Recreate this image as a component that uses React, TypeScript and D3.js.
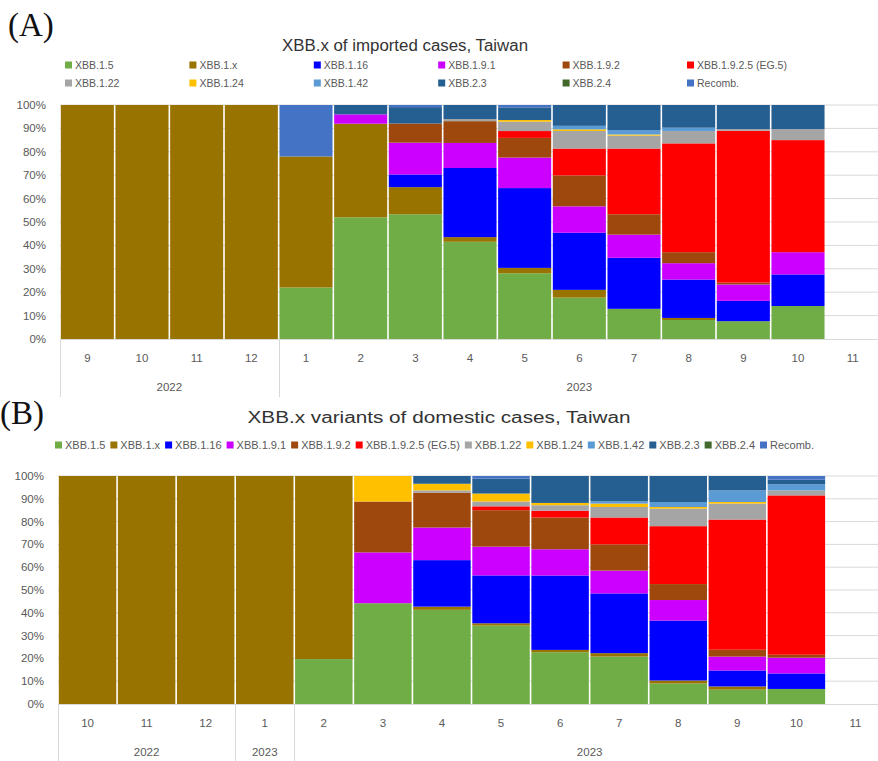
import React, { useEffect, useRef } from 'react';
import * as d3 from 'd3';

// variant names, bottom of the stack first
const variants = ['XBB.1.5', 'XBB.1.x', 'XBB.1.16', 'XBB.1.9.1', 'XBB.1.9.2', 'XBB.1.9.2.5 (EG.5)',
  'XBB.1.22', 'XBB.1.24', 'XBB.1.42', 'XBB.2.3', 'XBB.2.4', 'Recomb.'];
const variantColors = ['#70ad47', '#997300', '#0000ff', '#cc00ff', '#9e480e', '#ff0000',
  '#a5a5a5', '#ffc000', '#5b9bd5', '#255e91', '#43682b', '#4472c4'];

const yTicks = [0, 0.1, 0.2, 0.3, 0.4, 0.5, 0.6, 0.7, 0.8, 0.9, 1];

// (A) imported cases, Sep 2022 .. Nov 2023
const importedMonths = ['9', '10', '11', '12', '1', '2', '3', '4', '5', '6', '7', '8', '9', '10', '11'];
const importedYears = [{ label: '2022', from: 0, to: 4 }, { label: '2023', from: 4, to: 15 }];
const impXBB15 = [0, 0, 0, 0, 22, 52, 53.3, 41.5, 28, 17.7, 12.9, 8.1, 7.6, 14.1, 0];
const impXBB1x = [100, 100, 100, 100, 56, 40, 11.6, 2, 2.3, 3.3, 0, 0.9, 0, 0, 0];
const impXBB116 = [0, 0, 0, 0, 0, 0, 5.4, 29.5, 34, 24.4, 21.8, 16.4, 8.7, 13.5, 0];
const impXBB191 = [0, 0, 0, 0, 0, 4, 13.6, 10.7, 13, 11.3, 9.9, 7, 7, 9.5, 0];
const impXBB192 = [0, 0, 0, 0, 0, 0, 8.2, 9.3, 8.4, 13.2, 8.7, 4.7, 0.8, 0, 0];
const impEG5 = [0, 0, 0, 0, 0, 0, 0, 0, 2.9, 11.5, 28.1, 46.5, 64.9, 47.9, 0];
const impXBB122 = [0, 0, 0, 0, 0, 0, 0, 0.9, 4, 7.5, 5.5, 5.3, 0.7, 4.7, 0];
const impXBB124 = [0, 0, 0, 0, 0, 0, 0, 0, 0.7, 0.7, 0.5, 0, 0, 0, 0];
const impXBB142 = [0, 0, 0, 0, 0, 0, 0, 0, 0, 1.5, 1.9, 1.4, 0, 0, 0];
const impXBB23 = [0, 0, 0, 0, 0, 4, 7, 6, 5.4, 8.9, 10.7, 9.7, 10.3, 10.3, 0];
const impXBB24 = [0, 0, 0, 0, 0, 0, 0, 0, 0, 0, 0, 0, 0, 0, 0];
const impRecomb = [0, 0, 0, 0, 22, 0, 0.9, 0, 1, 0, 0, 0, 0, 0, 0];

// (B) domestic cases, Oct 2022 .. Nov 2023
const domesticMonths = ['10', '11', '12', '1', '2', '3', '4', '5', '6', '7', '8', '9', '10', '11'];
const domesticYears = [{ label: '2022', from: 0, to: 3 }, { label: '2023', from: 3, to: 4 }, { label: '2023', from: 4, to: 14 }];
const domXBB15 = [0, 0, 0, 0, 19.7, 44.2, 41.3, 34.4, 22.7, 20.8, 9, 6.3, 6.6, 0];
const domXBB1x = [100, 100, 100, 100, 80.3, 0, 1.4, 1, 1, 1.5, 1.3, 1.4, 0, 0];
const domXBB116 = [0, 0, 0, 0, 0, 0, 20.4, 21, 32.6, 26.2, 26.3, 7, 6.8, 0];
const domXBB191 = [0, 0, 0, 0, 0, 22.3, 14.3, 12.6, 11.5, 10, 9, 6.1, 6.9, 0];
const domXBB192 = [0, 0, 0, 0, 0, 22.3, 15.3, 16, 13.9, 11.5, 7, 3, 1.3, 0];
const domEG5 = [0, 0, 0, 0, 0, 0, 0, 1.7, 3, 11.8, 25.4, 57.1, 69.9, 0];
const domXBB122 = [0, 0, 0, 0, 0, 0, 1, 2.1, 2.4, 4.6, 7.7, 7, 2.2, 0];
const domXBB124 = [0, 0, 0, 0, 0, 11.2, 2.9, 3.5, 1, 1.5, 0.7, 0.7, 0, 0];
const domXBB142 = [0, 0, 0, 0, 0, 0, 0, 0, 0, 1, 2.2, 5.1, 2.7, 0];
const domXBB23 = [0, 0, 0, 0, 0, 0, 3.4, 6.5, 11.8, 11.1, 11.4, 6.3, 2, 0];
const domXBB24 = [0, 0, 0, 0, 0, 0, 0, 0, 0, 0, 0, 0, 0, 0];
const domRecomb = [0, 0, 0, 0, 0, 0, 0, 1.2, 0, 0, 0, 0, 1.6, 0];

const importedSeries = [impXBB15, impXBB1x, impXBB116, impXBB191, impXBB192, impEG5,
  impXBB122, impXBB124, impXBB142, impXBB23, impXBB24, impRecomb];
const domesticSeries = [domXBB15, domXBB1x, domXBB116, domXBB191, domXBB192, domEG5,
  domXBB122, domXBB124, domXBB142, domXBB23, domXBB24, domRecomb];

const FONT = 'Liberation Sans, Arial, sans-serif';
const GREY = '#595959';

type Panel = {
  tag: string; tagX: number; tagY: number;
  title: string; titleX: number; titleY: number; titleLen: number;
  months: string[]; years: { label: string; from: number; to: number }[];
  series: number[][];
  left: number; right: number; top: number; bottom: number;
};

function drawPanel(svg: any, p: Panel) {
  const g = svg.append('g');
  const n = p.months.length;
  const idx = d3.range(n);
  const x = d3.scaleBand<number>().domain(idx).range([p.left, p.right]).padding(0);
  const y = d3.scaleLinear().domain([0, 1]).range([p.bottom, p.top]);

  g.append('text').attr('x', p.tagX).attr('y', p.tagY)
    .attr('font-family', 'Liberation Serif, Times New Roman, serif').attr('font-size', 33)
    .attr('fill', '#111').text(p.tag);
  g.append('text').attr('x', p.titleX).attr('y', p.titleY).attr('text-anchor', 'middle')
    .attr('font-family', FONT).attr('font-size', 16).attr('fill', '#333')
    .attr('textLength', p.titleLen).attr('lengthAdjust', 'spacingAndGlyphs').text(p.title);

  // gridlines
  g.selectAll('.grid').data(yTicks.slice(1)).enter().append('line')
    .attr('x1', p.left).attr('x2', 878).attr('y1', d => y(d)).attr('y2', d => y(d))
    .attr('stroke', '#d9d9d9').attr('stroke-width', 1);

  // y labels
  g.selectAll('.ylab').data(yTicks).enter().append('text')
    .attr('x', p.left - 14).attr('y', d => y(d)).attr('dy', '0.35em').attr('text-anchor', 'end')
    .attr('font-family', FONT).attr('font-size', 11.5).attr('fill', GREY)
    .text(d => d3.format('.0%')(d));

  // 100% stacked bars
  const rows = idx.map(i => {
    const r: any = { i };
    const total = d3.sum(p.series, s => s[i]);
    variants.forEach((v, k) => { r[v] = total > 0 ? p.series[k][i] / total : 0; });
    return r;
  });
  const stacked = d3.stack().keys(variants)(rows);
  const layers = g.selectAll('.layer').data(stacked).enter().append('g')
    .attr('fill', (_d: any, k: number) => variantColors[k]);
  layers.selectAll('rect').data((d: any) => d).enter().append('rect')
    .attr('x', (d: any) => (x(d.data.i) as number) + 0.8)
    .attr('width', x.bandwidth() - 1.6)
    .attr('y', (d: any) => y(d[1]))
    .attr('height', (d: any) => y(d[0]) - y(d[1]));

  // category axis
  g.append('line').attr('x1', p.left).attr('x2', 878).attr('y1', p.bottom + 0.5).attr('y2', p.bottom + 0.5)
    .attr('stroke', '#d9d9d9');
  g.selectAll('.xlab').data(idx).enter().append('text')
    .attr('x', i => (x(i) as number) + x.bandwidth() / 2).attr('y', p.bottom + 19).attr('dy', '0.35em')
    .attr('text-anchor', 'middle').attr('font-family', FONT).attr('font-size', 11.5).attr('fill', GREY)
    .text(i => p.months[i]);
  const bounds = Array.from(new Set(p.years.flatMap(yr => [yr.from, yr.to]))).filter(b => b < n);
  g.selectAll('.ydiv').data(bounds).enter().append('line')
    .attr('x1', b => Math.round(x(b) as number) + 0.5).attr('x2', b => Math.round(x(b) as number) + 0.5)
    .attr('y1', p.bottom).attr('y2', p.bottom + 58).attr('stroke', '#d9d9d9');
  g.selectAll('.yrlab').data(p.years).enter().append('text')
    .attr('x', yr => ((x(yr.from) as number) + (yr.to >= n ? p.right : (x(yr.to) as number))) / 2)
    .attr('y', p.bottom + 48).attr('dy', '0.35em').attr('text-anchor', 'middle')
    .attr('font-family', FONT).attr('font-size', 11.5).attr('fill', GREY).text(yr => yr.label);
  return g;
}

function legendItem(g: any, k: number, lx: number, ly: number, size: number) {
  g.append('rect').attr('x', lx).attr('y', ly - 3.5).attr('width', 7).attr('height', 7).attr('fill', variantColors[k]);
  return g.append('text').attr('x', lx + 10).attr('y', ly).attr('dy', '0.35em')
    .attr('font-family', FONT).attr('font-size', size).attr('fill', GREY).text(variants[k]);
}

const App = () => {
  const ref = useRef<SVGSVGElement>(null);
  useEffect(() => {
    const svg = d3.select(ref.current);
    svg.selectAll('*').remove();

    drawPanel(svg, {
      tag: '(A)', tagX: 8, tagY: 36, title: 'XBB.x of imported cases, Taiwan', titleX: 405, titleY: 51, titleLen: 246,
      months: importedMonths, years: importedYears, series: importedSeries,
      left: 60, right: 880, top: 105, bottom: 339,
    });
    const legA = svg.append('g');
    variants.forEach((_v, k) => legendItem(legA, k, 65 + (k % 6) * 124.4, 65 + Math.floor(k / 6) * 18, 10.5));

    drawPanel(svg, {
      tag: '(B)', tagX: 0, tagY: 424, title: 'XBB.x variants of domestic cases, Taiwan', titleX: 439, titleY: 423, titleLen: 383,
      months: domesticMonths, years: domesticYears, series: domesticSeries,
      left: 58, right: 885, top: 476, bottom: 704,
    });
    const legB = svg.append('g');
    let lx = 55;
    variants.forEach((_v, k) => {
      const t = legendItem(legB, k, lx, 445, 11);
      lx += 10 + t.node().getComputedTextLength() + 5;
    });
  }, []);

  return (
    <svg ref={ref} width={878} height={761}
      style={{ position: 'absolute', left: 0, top: 0, background: '#fff' }} />
  );
};

export default App;
